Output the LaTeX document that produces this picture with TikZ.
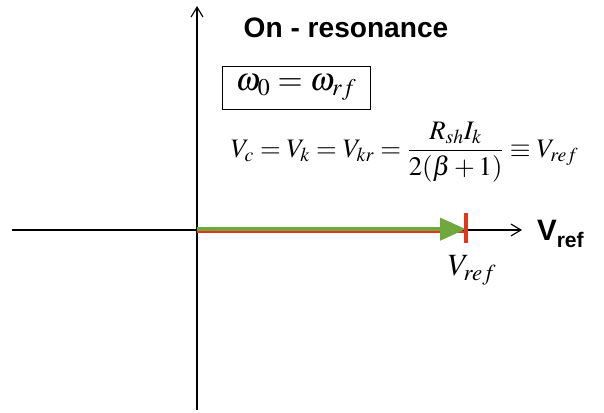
\documentclass[tikz,border=0pt]{standalone}
\usepackage{fontspec}
\usepackage{amsmath}
\usepackage{mathptmx}
\setmainfont{Liberation Serif}
\setsansfont{Liberation Sans}
\usetikzlibrary{arrows.meta, positioning}
\definecolor{vecgreen}{RGB}{112,168,62}
\definecolor{vecred}{RGB}{228,52,28}

\begin{document}
\begin{tikzpicture}
  \useasboundingbox (0,0) rectangle (15.1,10.3);
  % Axes
  \coordinate (orig) at (4.925,4.55);
  \coordinate (ybot) at (4.925,0.05);
  \coordinate (ytop) at (4.925,10.15);
  \coordinate (xleft) at (0.3,4.55);
  \coordinate (xright) at (13.05,4.55);
  \draw[thick, -{Straight Barb[length=2.5mm, width=3mm]}] (ybot) -- (ytop);
  \draw[thick, -{Straight Barb[length=2.5mm, width=3mm]}] (xleft) -- (xright);
  \node[font=\sffamily\bfseries\fontsize{21}{24}\selectfont, anchor=west, inner sep=0pt] (xlab) at (13.42,4.45)
        {V\raisebox{-0.22em}{\fontsize{15}{18}\selectfont ref}};

  % Title and resonance condition
  \node[font=\sffamily\bfseries\fontsize{20}{24}\selectfont] (title) at (8.65,9.6) {On - resonance};
  \node[draw, thin, inner sep=3pt, minimum width=3.7cm, minimum height=1.07cm,
        font=\fontsize{23}{27}\selectfont] (cond) at (7.4,8.1) {$\omega_0=\omega_{rf}$};
  \node[font=\fontsize{19}{23}\selectfont] (volt) at (10.12,6.5)
        {$V_c=V_k=V_{kr}=\dfrac{R_{sh}I_k}{2(\beta+1)}\equiv V_{ref}$};

  % Reference voltage vector
  \coordinate (vtip) at (11.65,4.55);
  \draw[vecred, line width=1.4pt] ([yshift=-1.6pt]orig) -- ([yshift=-1.6pt]vtip);
  \draw[vecgreen, line width=3pt, -{Triangle[length=6.5mm, width=5.5mm]}] ([yshift=0.6pt]orig) -- ([yshift=0.6pt]vtip);
  \draw[vecred, line width=2.8pt] (11.65,4.975) -- (11.65,4.225);
  \node[font=\fontsize{22}{26}\selectfont] (vref) at (11.8,3.55) {$V_{ref}$};
\end{tikzpicture}
\end{document}
